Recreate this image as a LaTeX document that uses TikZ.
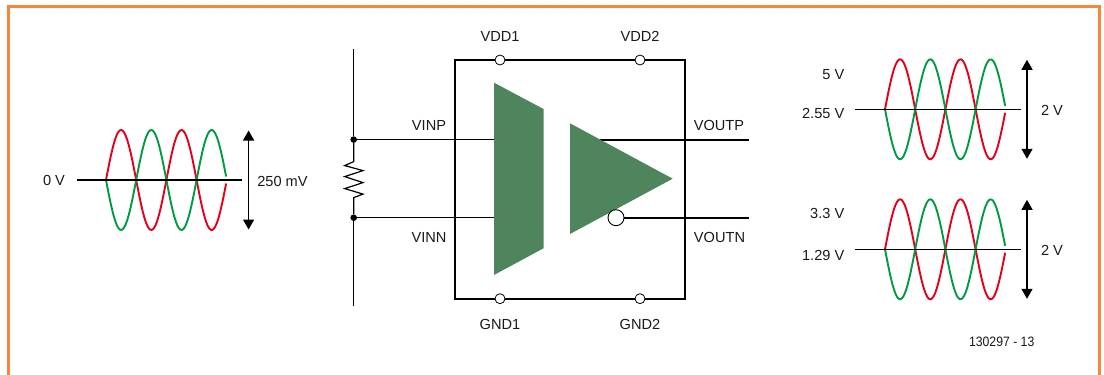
\documentclass[tikz,border=0pt]{standalone}
\usepackage{fontspec}
\setmainfont{Liberation Sans}
\newfontfamily\narrowfont[FakeStretch=0.9]{Liberation Sans}
\usetikzlibrary{arrows.meta}
\definecolor{framecol}{HTML}{F5863A}
\definecolor{chipgreen}{HTML}{4F855C}
\definecolor{wavered}{HTML}{E2001A}
\definecolor{wavegreen}{HTML}{009A44}
\tikzset{
	lbl/.style={font=\fontsize{14.6}{16}\selectfont, text=black!90, inner sep=0pt},
	pin/.style={circle, draw, line width=0.8pt, fill=white, minimum size=10pt, inner sep=0pt},
	junct/.style={circle, fill=black, minimum size=6.6pt, inner sep=0pt},
	wire/.style={line width=1.2pt},
	outwire/.style={line width=2pt}
}
\begin{document}
\begin{tikzpicture}[x=1pt, y=-1pt, >={Triangle[length=10pt, width=11pt]}]
	\useasboundingbox (0,0) rectangle (1104,375);
	\draw[framecol, line width=3pt] (8.5,375) -- (8.5,6.5) -- (1099.5,6.5) -- (1099.5,375);

	\foreach \wx / \wy / \axl / \axr / \arr / \i in {106/180/76.5/242/248.6/a, 885/109.3/855/1020.7/1027/b, 885/249.3/855/1020.7/1027/c} {
		\draw[wavered, line width=1.9pt] plot[domain=0:716, samples=80] ({\wx+\x/180*30.2}, {\wy-50*sin(\x)});
		\draw[wavegreen, line width=1.9pt] plot[domain=0:716, samples=80] ({\wx+\x/180*30.2}, {\wy+50*sin(\x)});
		\coordinate (axl\i) at (\axl, \wy);
		\coordinate (axr\i) at (\axr, \wy);
		\coordinate (arrt\i) at (\arr, \wy-49.5);
		\coordinate (arrb\i) at (\arr, \wy+49.5);
		\draw[line width=1.3pt] (axl\i) -- (axr\i);
		\draw[<->, line width=1.3pt] (arrt\i) -- (arrb\i);
	}
	\node[lbl] (zerov) at (54,180.5) {0 V};
	\node[lbl] (swing) at (282.5,181) {250 mV};
	\node[lbl, anchor=east] (fivev) at (844.5,74.5) {5 V};
	\node[lbl, anchor=east] (midtop) at (844.5,113) {2.55 V};
	\node[lbl] (twotop) at (1052,110) {2 V};
	\node[lbl, anchor=east] (threev) at (844.5,213.5) {3.3 V};
	\node[lbl, anchor=east] (midbot) at (844.5,255.5) {1.29 V};
	\node[lbl] (twobot) at (1052,250) {2 V};
	\node[lbl, font=\narrowfont\fontsize{13.6}{15}\selectfont] (figno) at (1001.7,342) {130297 - 13};

	\coordinate (railtop) at (353.7,49);
	\coordinate (railbot) at (353.7,306);
	\node[junct] (dotp) at (353.7,139.6) {};
	\node[junct] (dotn) at (353.7,217.7) {};
	\coordinate (vinpend) at (494,139.6);
	\coordinate (vinnend) at (494,217.7);
	\draw[wire] (railtop) -- (dotp);
	\draw[wire] (dotn) -- (railbot);
	\draw[wire] (dotp) -- ++(0,22) -- ++(-9,4) -- ++(18.3,5) -- ++(-18.3,6) -- ++(18.3,6) -- ++(-18.3,6) -- ++(18.3,5.5) -- ++(-9.3,3.5) -- (dotn);
	\draw[wire] (dotp) -- (vinpend);
	\draw[wire] (dotn) -- (vinnend);

	\draw[line width=2pt] (455,60) rectangle (685,298.7);
	\foreach \px / \py / \nm / \txt / \ly in {500/60/vdda/VDD1/36.5, 640/60/vddb/VDD2/36.5, 500/298.7/gnda/GND1/324.5, 640/298.7/gndb/GND2/324.5} {
		\node[pin] (\nm) at (\px,\py) {};
		\node[lbl] at (\px,\ly) {\txt};
	}

	\coordinate (voutpstart) at (600,139.6);
	\coordinate (voutpend) at (749,139.6);
	\coordinate (voutnend) at (749,217.7);
	\draw[outwire] (voutpstart) -- (voutpend);
	\fill[chipgreen] (494,82.7) -- (543.5,109) -- (543.5,248.3) -- (494,275) -- cycle;
	\fill[chipgreen] (570,123.3) -- (672.7,178.7) -- (570,234) -- cycle;
	\node[circle, draw, line width=0.9pt, fill=white, minimum size=16pt, inner sep=0pt] (bubble) at (616,217.7) {};
	\draw[outwire] (bubble) -- (voutnend);

	\node[lbl] (vinp) at (429,125.5) {VINP};
	\node[lbl] (vinn) at (429,237.5) {VINN};
	\node[lbl] (voutp) at (719,125.5) {VOUTP};
	\node[lbl] (voutn) at (719.5,237.5) {VOUTN};
\end{tikzpicture}
\end{document}
